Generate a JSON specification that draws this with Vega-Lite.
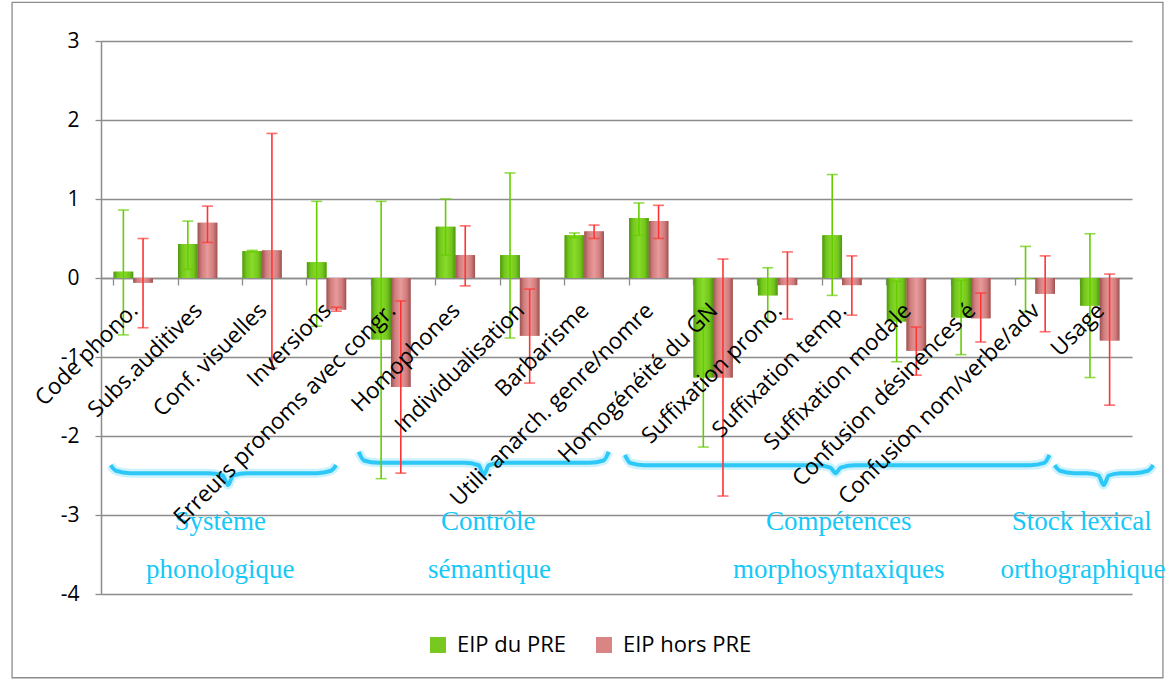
{
  "$schema": "https://vega.github.io/schema/vega-lite/v6.json",
  "width": 1031,
  "height": 553,
  "autosize": {"type": "none"},
  "padding": {"left": 101, "top": 41, "right": 35, "bottom": 88},
  "background": "white",
  "config": {"view": {"stroke": null}, "font": "Open Sans"},
  "datasets": {
    "bars": [
      {"cat":"Code phono.","serie":"EIP du PRE","v":0.08,"lo":-0.72,"hi":0.86},
      {"cat":"Code phono.","serie":"EIP hors PRE","v":-0.06,"lo":-0.63,"hi":0.50},
      {"cat":"Subs.auditives","serie":"EIP du PRE","v":0.43,"lo":0.11,"hi":0.72},
      {"cat":"Subs.auditives","serie":"EIP hors PRE","v":0.70,"lo":0.45,"hi":0.91},
      {"cat":"Conf. visuelles","serie":"EIP du PRE","v":0.34,"lo":0.33,"hi":0.35},
      {"cat":"Conf. visuelles","serie":"EIP hors PRE","v":0.35,"lo":-1.14,"hi":1.83},
      {"cat":"Inversions","serie":"EIP du PRE","v":0.20,"lo":-0.61,"hi":0.97},
      {"cat":"Inversions","serie":"EIP hors PRE","v":-0.40,"lo":-0.42,"hi":-0.37},
      {"cat":"Erreurs pronoms avec congr.","serie":"EIP du PRE","v":-0.78,"lo":-2.54,"hi":0.97},
      {"cat":"Erreurs pronoms avec congr.","serie":"EIP hors PRE","v":-1.38,"lo":-2.47,"hi":-0.29},
      {"cat":"Homophones","serie":"EIP du PRE","v":0.65,"lo":0.29,"hi":1.00},
      {"cat":"Homophones","serie":"EIP hors PRE","v":0.29,"lo":-0.10,"hi":0.66},
      {"cat":"Individualisation","serie":"EIP du PRE","v":0.29,"lo":-0.76,"hi":1.33},
      {"cat":"Individualisation","serie":"EIP hors PRE","v":-0.73,"lo":-1.33,"hi":-0.14},
      {"cat":"Barbarisme","serie":"EIP du PRE","v":0.54,"lo":0.51,"hi":0.57},
      {"cat":"Barbarisme","serie":"EIP hors PRE","v":0.59,"lo":0.50,"hi":0.67},
      {"cat":"Utili. anarch. genre/nomre","serie":"EIP du PRE","v":0.76,"lo":0.54,"hi":0.95},
      {"cat":"Utili. anarch. genre/nomre","serie":"EIP hors PRE","v":0.72,"lo":0.50,"hi":0.92},
      {"cat":"Homogénéité du GN","serie":"EIP du PRE","v":-1.26,"lo":-2.14,"hi":-0.38},
      {"cat":"Homogénéité du GN","serie":"EIP hors PRE","v":-1.26,"lo":-2.76,"hi":0.24},
      {"cat":"Suffixation prono.","serie":"EIP du PRE","v":-0.22,"lo":-0.55,"hi":0.13},
      {"cat":"Suffixation prono.","serie":"EIP hors PRE","v":-0.09,"lo":-0.52,"hi":0.33},
      {"cat":"Suffixation temp.","serie":"EIP du PRE","v":0.54,"lo":-0.22,"hi":1.31},
      {"cat":"Suffixation temp.","serie":"EIP hors PRE","v":-0.09,"lo":-0.47,"hi":0.28},
      {"cat":"Suffixation modale","serie":"EIP du PRE","v":-0.55,"lo":-1.06,"hi":-0.04},
      {"cat":"Suffixation modale","serie":"EIP hors PRE","v":-0.92,"lo":-1.23,"hi":-0.62},
      {"cat":"Confusion désinences é","serie":"EIP du PRE","v":-0.50,"lo":-0.97,"hi":-0.03},
      {"cat":"Confusion désinences é","serie":"EIP hors PRE","v":-0.51,"lo":-0.81,"hi":-0.19},
      {"cat":"Confusion nom/verbe/adv","serie":"EIP du PRE","v":-0.01,"lo":-0.43,"hi":0.40},
      {"cat":"Confusion nom/verbe/adv","serie":"EIP hors PRE","v":-0.20,"lo":-0.68,"hi":0.28},
      {"cat":"Usage","serie":"EIP du PRE","v":-0.35,"lo":-1.26,"hi":0.56},
      {"cat":"Usage","serie":"EIP hors PRE","v":-0.79,"lo":-1.61,"hi":0.05}
    ],
    "braces": [
      {"b":1,"i":1,"u":0.15,"v":-2.37},{"b":1,"i":2,"u":0.23,"v":-2.44},{"b":1,"i":3,"u":0.45,"v":-2.47},{"b":1,"i":4,"u":1.67,"v":-2.47},{"b":1,"i":5,"u":1.89,"v":-2.50},{"b":1,"i":6,"u":1.97,"v":-2.62},{"b":1,"i":7,"u":2.05,"v":-2.50},{"b":1,"i":8,"u":2.27,"v":-2.47},{"b":1,"i":9,"u":3.35,"v":-2.47},{"b":1,"i":10,"u":3.57,"v":-2.44},{"b":1,"i":11,"u":3.65,"v":-2.37},
      {"b":2,"i":1,"u":4.00,"v":-2.20},{"b":2,"i":2,"u":4.08,"v":-2.31},{"b":2,"i":3,"u":4.30,"v":-2.34},{"b":2,"i":4,"u":5.64,"v":-2.34},{"b":2,"i":5,"u":5.86,"v":-2.37},{"b":2,"i":6,"u":5.94,"v":-2.49},{"b":2,"i":7,"u":6.02,"v":-2.37},{"b":2,"i":8,"u":6.24,"v":-2.34},{"b":2,"i":9,"u":7.58,"v":-2.34},{"b":2,"i":10,"u":7.80,"v":-2.31},{"b":2,"i":11,"u":7.88,"v":-2.20},
      {"b":3,"i":1,"u":8.13,"v":-2.24},{"b":3,"i":2,"u":8.21,"v":-2.34},{"b":3,"i":3,"u":8.43,"v":-2.37},{"b":3,"i":4,"u":11.10,"v":-2.37},{"b":3,"i":5,"u":11.32,"v":-2.40},{"b":3,"i":6,"u":11.40,"v":-2.47},{"b":3,"i":7,"u":11.48,"v":-2.40},{"b":3,"i":8,"u":11.70,"v":-2.37},{"b":3,"i":9,"u":14.42,"v":-2.37},{"b":3,"i":10,"u":14.64,"v":-2.34},{"b":3,"i":11,"u":14.72,"v":-2.24},
      {"b":4,"i":1,"u":14.80,"v":-2.37},{"b":4,"i":2,"u":14.88,"v":-2.44},{"b":4,"i":3,"u":15.10,"v":-2.47},{"b":4,"i":4,"u":15.30,"v":-2.47},{"b":4,"i":5,"u":15.48,"v":-2.50},{"b":4,"i":6,"u":15.56,"v":-2.62},{"b":4,"i":7,"u":15.64,"v":-2.50},{"b":4,"i":8,"u":15.82,"v":-2.47},{"b":4,"i":9,"u":16.03,"v":-2.47},{"b":4,"i":10,"u":16.25,"v":-2.44},{"b":4,"i":11,"u":16.33,"v":-2.37}
    ],
    "groups": [
      {"text":"Système","gx":1.85,"gy":-3.09},
      {"text":"phonologique","gx":1.85,"gy":-3.70},
      {"text":"Contrôle","gx":6.01,"gy":-3.09},
      {"text":"sémantique","gx":6.03,"gy":-3.70},
      {"text":"Compétences","gx":11.45,"gy":-3.09},
      {"text":"morphosyntaxiques","gx":11.45,"gy":-3.70},
      {"text":"Stock lexical","gx":15.22,"gy":-3.09},
      {"text":"orthographique","gx":15.24,"gy":-3.70}
    ],
    "frame": [{"x1":-1.38,"x2":16.48,"y1":3.49,"y2":-5.06}]
  },
  "resolve": {"scale": {"x": "independent"}},
  "layer": [
    {
      "layer": [
        {
          "data": {"name": "frame"},
          "mark": {"type": "rect", "fill": "transparent", "stroke": "#8c8c8c", "strokeWidth": 1.3},
          "encoding": {
            "x": {"field": "x1", "type": "quantitative", "scale": {"domain": [0, 16], "nice": false, "zero": false}, "axis": null},
            "x2": {"field": "x2"},
            "y": {"field": "y1", "type": "quantitative", "scale": {"domain": [-4, 3], "nice": false},
              "axis": {"values": [-4, -3, -2, -1, 0, 1, 2, 3], "labelExpr": "'' + datum.value", "title": null, "grid": true, "gridColor": "#8c8c8c", "gridWidth": 1.3, "domainColor": "#8c8c8c", "domainWidth": 1.5, "tickColor": "#8c8c8c", "tickSize": 6, "tickWidth": 1.3, "labelFontSize": 21, "labelFont": "Open Sans", "labelColor": "#000000", "labelPadding": 16}},
            "y2": {"field": "y2"}
          }
        },
        {
          "data": {"name": "braces"},
          "mark": {"type": "line", "interpolate": "monotone", "stroke": "#33CCFF", "strokeWidth": 9, "opacity": 0.25},
          "encoding": {
            "x": {"field": "u", "type": "quantitative", "scale": {"domain": [0, 16], "nice": false, "zero": false}, "axis": null},
            "y": {"field": "v", "type": "quantitative", "axis": {"values": [-4, -3, -2, -1, 0, 1, 2, 3], "labelExpr": "'' + datum.value", "title": null, "grid": true, "gridColor": "#8c8c8c", "gridWidth": 1.3, "domainColor": "#8c8c8c", "domainWidth": 1.5, "tickColor": "#8c8c8c", "tickSize": 6, "tickWidth": 1.3, "labelFontSize": 21, "labelFont": "Open Sans", "labelColor": "#000000", "labelPadding": 16}},
            "detail": {"field": "b", "type": "nominal"},
            "order": {"field": "i", "type": "quantitative"}
          }
        },
        {
          "data": {"name": "braces"},
          "mark": {"type": "line", "interpolate": "monotone", "stroke": "#2EC8F8", "strokeWidth": 4},
          "encoding": {
            "x": {"field": "u", "type": "quantitative", "scale": {"domain": [0, 16], "nice": false, "zero": false}, "axis": null},
            "y": {"field": "v", "type": "quantitative", "axis": {"values": [-4, -3, -2, -1, 0, 1, 2, 3], "labelExpr": "'' + datum.value", "title": null, "grid": true, "gridColor": "#8c8c8c", "gridWidth": 1.3, "domainColor": "#8c8c8c", "domainWidth": 1.5, "tickColor": "#8c8c8c", "tickSize": 6, "tickWidth": 1.3, "labelFontSize": 21, "labelFont": "Open Sans", "labelColor": "#000000", "labelPadding": 16}},
            "detail": {"field": "b", "type": "nominal"},
            "order": {"field": "i", "type": "quantitative"}
          }
        },
        {
          "data": {"name": "groups"},
          "mark": {"type": "text", "font": "Liberation Serif", "fontSize": 27, "color": "#14C8F8", "align": "center", "baseline": "middle"},
          "encoding": {
            "x": {"field": "gx", "type": "quantitative", "scale": {"domain": [0, 16], "nice": false, "zero": false}, "axis": null},
            "y": {"field": "gy", "type": "quantitative", "axis": {"values": [-4, -3, -2, -1, 0, 1, 2, 3], "labelExpr": "'' + datum.value", "title": null, "grid": true, "gridColor": "#8c8c8c", "gridWidth": 1.3, "domainColor": "#8c8c8c", "domainWidth": 1.5, "tickColor": "#8c8c8c", "tickSize": 6, "tickWidth": 1.3, "labelFontSize": 21, "labelFont": "Open Sans", "labelColor": "#000000", "labelPadding": 16}},
            "text": {"field": "text"}
          }
        }
      ]
    },
    {
      "data": {"name": "bars"},
      "encoding": {
        "x": {
          "field": "cat", "type": "nominal", "sort": null,
          "scale": {"paddingInner": 0.39, "paddingOuter": 0.195},
          "axis": {"orient": "bottom", "offset": -316, "labels": false, "title": null, "bandPosition": 0, "tickSize": 7, "tickColor": "#8c8c8c", "tickWidth": 1.3, "domainColor": "#8c8c8c", "domainWidth": 1.5, "grid": false}
        },
        "y": {"field": "v", "type": "quantitative", "scale": {"domain": [-4, 3], "nice": false},
          "axis": {"values": [-4, -3, -2, -1, 0, 1, 2, 3], "labelExpr": "'' + datum.value", "title": null, "grid": true, "gridColor": "#8c8c8c", "gridWidth": 1.3, "domainColor": "#8c8c8c", "domainWidth": 1.5, "tickColor": "#8c8c8c", "tickSize": 6, "tickWidth": 1.3, "labelFontSize": 21, "labelFont": "Open Sans", "labelColor": "#000000", "labelPadding": 16}}
      },
      "layer": [
        {
          "mark": {"type": "bar"},
          "encoding": {
            "xOffset": {"field": "serie", "type": "nominal", "sort": null, "scale": {"paddingInner": 0, "paddingOuter": 0}},
            "color": {
              "field": "serie", "type": "nominal",
              "scale": {"domain": ["EIP du PRE", "EIP hors PRE"], "range": ["#78C820", "#D98585"]},
              "legend": {"orient": "none", "legendX": 326, "legendY": 593, "direction": "horizontal", "title": null, "symbolType": "square", "symbolSize": 256, "symbolStrokeWidth": 0, "labelFontSize": 22, "labelFont": "Open Sans", "labelColor": "#000000", "columnPadding": 26, "labelOffset": 8, "padding": 0}
            }
          }
        },
        {
          "transform": [{"filter": "datum.serie === 'EIP du PRE'"}],
          "mark": {"type": "bar", "fill": {"gradient": "linear", "x1": 0, "y1": 0, "x2": 1, "y2": 0, "stops": [{"offset": 0, "color": "#4E9612"}, {"offset": 0.2, "color": "#74C61C"}, {"offset": 0.5, "color": "#88DC2A"}, {"offset": 0.8, "color": "#74C61C"}, {"offset": 1, "color": "#4E9612"}]}},
          "encoding": {
            "xOffset": {"field": "serie", "type": "nominal", "sort": null, "scale": {"paddingInner": 0, "paddingOuter": 0}}
          }
        },
        {
          "transform": [{"filter": "datum.serie === 'EIP hors PRE'"}],
          "mark": {"type": "bar", "fill": {"gradient": "linear", "x1": 0, "y1": 0, "x2": 1, "y2": 0, "stops": [{"offset": 0, "color": "#9C5252"}, {"offset": 0.2, "color": "#D07C7C"}, {"offset": 0.5, "color": "#E89A9A"}, {"offset": 0.8, "color": "#D07C7C"}, {"offset": 1, "color": "#9C5252"}]}},
          "encoding": {
            "xOffset": {"field": "serie", "type": "nominal", "sort": null, "scale": {"paddingInner": 0, "paddingOuter": 0}}
          }
        },
        {
          "mark": {"type": "rule", "strokeWidth": 1.6},
          "encoding": {
            "xOffset": {"field": "serie", "type": "nominal", "sort": null, "scale": {"paddingInner": 0, "paddingOuter": 0}},
            "y": {"field": "lo", "type": "quantitative"},
            "y2": {"field": "hi"},
            "stroke": {"field": "serie", "type": "nominal", "scale": {"domain": ["EIP du PRE", "EIP hors PRE"], "range": ["#66CC00", "#FF3333"]}, "legend": null}
          }
        },
        {
          "mark": {"type": "tick", "size": 11, "thickness": 1.6},
          "encoding": {
            "xOffset": {"field": "serie", "type": "nominal", "sort": null, "scale": {"paddingInner": 0, "paddingOuter": 0}},
            "y": {"field": "lo", "type": "quantitative"},
            "fill": {"field": "serie", "type": "nominal", "scale": {"domain": ["EIP du PRE", "EIP hors PRE"], "range": ["#66CC00", "#FF3333"]}, "legend": null}
          }
        },
        {
          "mark": {"type": "tick", "size": 11, "thickness": 1.6},
          "encoding": {
            "xOffset": {"field": "serie", "type": "nominal", "sort": null, "scale": {"paddingInner": 0, "paddingOuter": 0}},
            "y": {"field": "hi", "type": "quantitative"},
            "fill": {"field": "serie", "type": "nominal", "scale": {"domain": ["EIP du PRE", "EIP hors PRE"], "range": ["#66CC00", "#FF3333"]}, "legend": null}
          }
        },
        {
          "transform": [{"filter": "datum.serie === 'EIP du PRE'"}],
          "mark": {"type": "text", "angle": 315, "align": "right", "baseline": "middle", "dx": -19.8, "dy": 21.2, "fontSize": 22.5, "font": "Open Sans", "color": "#000000"},
          "encoding": {
            "text": {"field": "cat"},
            "y": {"datum": 0}
          }
        }
      ]
    }
  ]
}
